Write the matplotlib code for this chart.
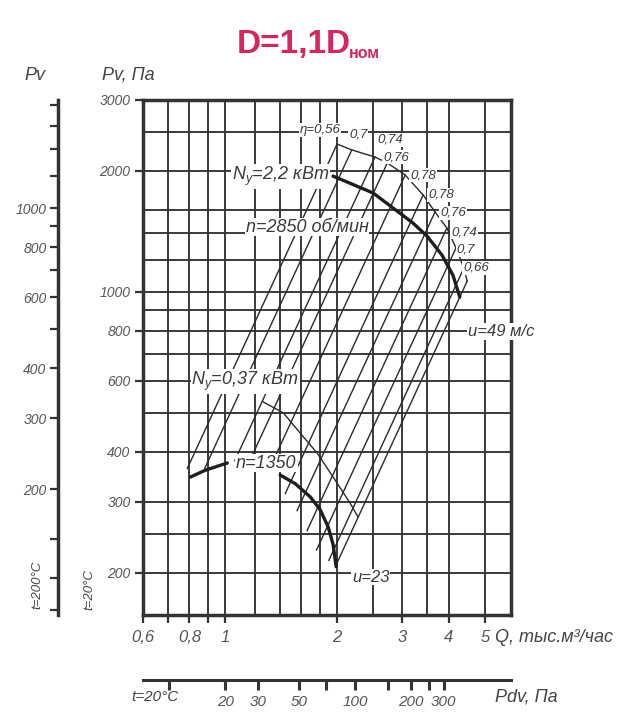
import numpy as np
import matplotlib
matplotlib.use("Agg")
import matplotlib.pyplot as plt
from matplotlib import font_manager as fm
from matplotlib.ticker import FixedLocator, FixedFormatter, NullLocator, NullFormatter

names = {f.name for f in fm.fontManager.ttflist}
FONT = 'Liberation Sans Narrow' if 'Liberation Sans Narrow' in names else 'Liberation Sans'
plt.rcParams['font.family'] = [FONT, 'DejaVu Sans']
plt.rcParams['mathtext.fontset'] = 'custom'
plt.rcParams['mathtext.rm'] = FONT
plt.rcParams['mathtext.it'] = FONT + ':italic'
plt.rcParams['mathtext.bf'] = 'Liberation Sans:bold'

# ---- data ----
# n = 2850 об/мин
q_2850 = [1.95, 2.50, 3.20, 3.49, 3.83, 4.10, 4.28]
p_2850 = [1940, 1761, 1483, 1377, 1235, 1101, 970]
# КПД scale curve (ticks), last point is the end at the u=49 line
q_eta = [2.00, 2.19, 2.53, 2.73, 3.05, 3.41, 3.67, 3.95, 4.18, 4.39, 4.48]
p_eta = [2331, 2254, 2164, 2092, 1952, 1741, 1580, 1441, 1285, 1146, 1063]
eta_text = ['η=0,56', '0,7', '0,74', '0,76', '0,78', '0,78', '0,76', '0,74', '0,7', '0,66']
q_eta_lbl = [1.80, 2.28, 2.78, 2.88, 3.41, 3.81, 4.10, 4.39, 4.44, 4.73]
p_eta_lbl = [2527, 2469, 2387, 2164, 1952, 1741, 1571, 1408, 1271, 1146]
# lower ends of the constant-efficiency lines
q_low = [0.79, 0.88, 1.06, 1.16, 1.34, 1.45, 1.56, 1.66, 1.76, 1.90]
# n = 1350 об/мин (middle part hidden by label)
q_1350 = [0.805, 0.884, 1.012, np.nan, 1.405, 1.543, 1.692, 1.80, 1.892, 1.951, 1.988]
p_1350 = [346, 360, 375, np.nan, 350, 333, 309, 287, 260, 235, 207]
# КПД curve for 1350
q_eta2 = [1.265, 1.432, 1.591, 1.767, 1.951, 2.168, 2.278]
p_eta2 = [532, 500, 445, 397, 346, 298, 275]
# u = 23 ... 49 м/с boundary
q_u = [1.988, 4.48]

x_grid = [0.6, 0.7, 0.8, 0.9, 1, 1.2, 1.4, 1.6, 1.8, 2, 2.5, 3, 3.5, 4, 5]
y_grid = [200, 250, 300, 400, 500, 600, 700, 800, 900, 1000, 1200, 1400, 1600, 2000, 2500, 3000]
y_ticks = [200, 300, 400, 600, 800, 1000, 2000, 3000]
x_ticks = [0.6, 0.7, 0.8, 0.9, 1, 2, 3, 4, 5]
x_labels = ['0,6', '', '0,8', '', '1', '2', '3', '4', '5']
pv200_major = [200, 300, 400, 600, 800, 1000]
pv200_minor = [100, 120, 150, 500, 700, 900, 1200, 1400, 1600, 1800]
rho_ratio = 0.619        # 293/473
pdv_major = [20, 30, 50, 100, 200, 300]
pdv_minor = [10, 70, 150, 250]
pdv_coef = 20.0          # Pdv = 20*Q^2

W, H = 617, 718
fig = plt.figure(figsize=(W / 100, H / 100), dpi=100)
ax = fig.add_axes([143 / W, 1 - 615 / H, 368 / W, 515 / H])
ax.set_xscale('log')
ax.set_yscale('log')
ax.set_xlim(0.6, 5.88)
ax.set_ylim(157, 3000)

gc = '#333333'
for xv in x_grid:
    ax.axvline(xv, color=gc, lw=1.35, zorder=1)
for yv in y_grid:
    ax.axhline(yv, color=gc, lw=1.35, zorder=1)

lc = '#2a2a2a'
# efficiency lines P ~ Q^2
for qt, pt, ql in zip(q_eta, p_eta, q_low):
    qq = np.array([ql, qt])
    ax.plot(qq, pt * (qq / qt) ** 2, color=lc, lw=1.0, zorder=2)
qq = np.array(q_u)
ax.plot(qq, p_2850[-1] * (qq / q_2850[-1]) ** 2, color=lc, lw=1.0, zorder=2)

ax.plot(q_eta, p_eta, color=lc, lw=1.0, zorder=2)
ax.plot(q_eta2, p_eta2, color=lc, lw=1.0, zorder=2)
ax.plot(q_2850, p_2850, color='#1e1e1e', lw=2.4, zorder=3, solid_capstyle='round')
ax.plot(q_1350, p_1350, color='#1e1e1e', lw=2.4, zorder=3, solid_capstyle='round')

tk = dict(fontstyle='italic', color='#3a3a3a', zorder=5)
box = dict(facecolor='white', edgecolor='none', pad=0.6)
for t, xq, yp in zip(eta_text, q_eta_lbl, p_eta_lbl):
    ax.text(xq, yp, t, fontsize=9.5, ha='center', va='center', bbox=box, **tk)
ax.text(1.9, 1940, r'N$_у$=2,2 кВт', fontsize=13, ha='right', va='center', bbox=box, **tk)
ax.text(1.66, 1449, 'n=2850 об/мин', fontsize=13, ha='center', va='center', bbox=box, **tk)
ax.text(1.13, 597, r'N$_у$=0,37 кВт', fontsize=13, ha='center', va='center', bbox=box, **tk)
ax.text(1.29, 375, 'n=1350', fontsize=13, ha='center', va='center', bbox=box, **tk)
ax.text(4.50, 795, 'u=49 м/с', fontsize=12, ha='left', va='center', bbox=box, **tk)
ax.text(2.195, 195, 'u=23', fontsize=12, ha='left', va='center', bbox=box, **tk)

for s in ax.spines.values():
    s.set_linewidth(2.5)
    s.set_color('#333333')
    s.set_zorder(4)

ax.yaxis.set_major_locator(FixedLocator(y_ticks))
ax.yaxis.set_major_formatter(FixedFormatter([str(v) for v in y_ticks]))
ax.yaxis.set_minor_locator(NullLocator())
ax.xaxis.set_major_locator(FixedLocator(x_ticks))
ax.xaxis.set_major_formatter(FixedFormatter(x_labels))
ax.xaxis.set_minor_locator(NullLocator())
ax.tick_params(axis='y', direction='out', length=6, width=1.6, color='#333333',
               labelsize=10, labelcolor='#555555', pad=3)
ax.tick_params(axis='x', direction='out', length=6, width=1.6, color='#333333',
               labelsize=12, labelcolor='#555555', pad=5)
for lbl in ax.get_xticklabels() + ax.get_yticklabels():
    lbl.set_fontstyle('italic')

# Pv axis for t = 200 C
sec = ax.secondary_yaxis(-0.232, functions=(lambda p: p * rho_ratio, lambda p: p / rho_ratio))
sec.yaxis.set_major_locator(FixedLocator(pv200_major))
sec.yaxis.set_major_formatter(FixedFormatter([str(v) for v in pv200_major]))
sec.yaxis.set_minor_locator(FixedLocator(pv200_minor))
sec.yaxis.set_minor_formatter(NullFormatter())
sec.tick_params(which='both', direction='out', length=6, width=1.6, color='#333333',
                labelsize=10, labelcolor='#555555', pad=2)
for lbl in sec.get_yticklabels():
    lbl.set_fontstyle('italic')
sec.spines['left'].set_linewidth(2.5)
sec.spines['left'].set_color('#333333')

# dynamic pressure axis
sx = ax.secondary_xaxis(-0.126, functions=(lambda q: pdv_coef * q ** 2,
                                           lambda p: np.sqrt(np.clip(p, 1e-9, None) / pdv_coef)))
sx.xaxis.set_major_locator(FixedLocator(pdv_major))
sx.xaxis.set_major_formatter(FixedFormatter([str(v) for v in pdv_major]))
sx.xaxis.set_minor_locator(FixedLocator(pdv_minor))
sx.xaxis.set_minor_formatter(NullFormatter())
sx.tick_params(which='both', direction='out', length=7, width=2.2, color='#333333',
               labelsize=11, labelcolor='#555555', pad=4)
for lbl in sx.get_xticklabels():
    lbl.set_fontstyle('italic')
sx.spines['bottom'].set_linewidth(2.2)
sx.spines['bottom'].set_color('#333333')


def ft(x, y, s, **kw):
    fig.text(x / W, 1 - y / H, s, **kw)


txt = dict(fontstyle='italic', color='#444444')
title_c = '#d6265c'
ft(351, 44, 'D=1,1D', fontsize=24, fontweight='bold', color=title_c,
   family='Liberation Sans', ha='right', va='center')
ft(349, 53, 'ном', fontsize=11.5, fontweight='bold', color=title_c,
   family='Liberation Sans', ha='left', va='center')
ft(35, 75, 'Pv', fontsize=13, ha='center', va='center', **txt)
ft(128, 75, 'Pv, Па', fontsize=13, ha='center', va='center', **txt)
ft(37, 585, 't=200°C', fontsize=9.5, rotation=90, ha='center', va='center', **txt)
ft(89, 590, 't=20°C', fontsize=9.5, rotation=90, ha='center', va='center', **txt)
ft(495, 637, 'Q, тыс.м³/час', fontsize=13, ha='left', va='center', **txt)
ft(155, 697, 't=20°C', fontsize=11, ha='center', va='center', **txt)
ft(495, 697, 'Pdv, Па', fontsize=13, ha='left', va='center', **txt)

fig.savefig('out.png', dpi=100)
